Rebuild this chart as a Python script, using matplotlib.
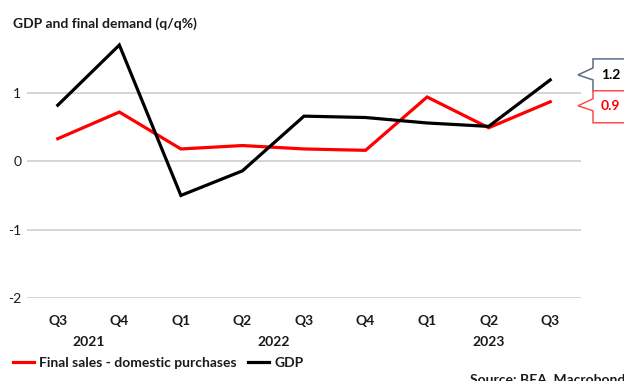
import matplotlib
matplotlib.use("Agg")
import matplotlib.pyplot as plt
from matplotlib.patches import Polygon
import numpy as np

quarters = ["Q3", "Q4", "Q1", "Q2", "Q3", "Q4", "Q1", "Q2", "Q3"]
years = ["2021", "2022", "2023"]
year_groups = [(0, 1), (2, 5), (6, 8)]
final_sales_minus_dom = [0.33, 0.72, 0.18, 0.23, 0.18, 0.16, 0.94, 0.49, 0.87]
gdp = [0.82, 1.70, -0.50, -0.14, 0.66, 0.64, 0.56, 0.51, 1.19]
gdp_label = "1.2"
fs_label = "0.9"

FONT = "Lato"
TXT = "#1a1a1a"
RED = "#ff0000"
FS = 10

W, H = 624, 381
fig = plt.figure(figsize=(W / 100, H / 100), dpi=100)
ax = fig.add_axes([27 / W, 1 - 298 / H, (581 - 27) / W, (298 - 30) / H])

x = np.arange(len(quarters))
ax.plot(x, final_sales_minus_dom, color=RED, lw=2.3, solid_joinstyle="miter",
        label="Final sales - domestic purchases", zorder=3)
ax.plot(x, gdp, color="black", lw=2.3, solid_joinstyle="miter", label="GDP", zorder=4)

ax.set_xlim(-0.5, 8.5)
ax.set_ylim(-2, 1.92)
ax.set_yticks([-2, -1, 0, 1])
ax.set_yticklabels(["-2", "-1", "0", "1"], fontfamily=FONT, fontsize=FS, color=TXT)
ax.yaxis.grid(True, color="#d4d4d4", lw=1.4)
ax.set_axisbelow(True)
ax.tick_params(axis="y", length=0, pad=4)
ax.set_xticks(x)
ax.set_xticklabels(quarters, fontfamily=FONT, fontsize=FS, fontweight="bold", color=TXT)
ax.tick_params(axis="x", length=0, pad=12)
for s in ax.spines.values():
    s.set_visible(False)

# year labels
for yr, (a, b) in zip(years, year_groups):
    ax.text((a + b) / 2, -44 / 268, yr, transform=ax.get_xaxis_transform(), ha="center", va="center",
            fontfamily=FONT, fontsize=FS, fontweight="bold", color=TXT)

# title
fig.text(13 / W, 1 - 24 / H, "GDP and final demand (q/q%)", ha="left", va="center",
         fontfamily=FONT, fontsize=FS, fontweight="bold", color=TXT)

# legend
leg = fig.legend(loc="center left", bbox_to_anchor=(13 / W, 1 - 363 / H), ncol=2, frameon=False,
                 prop={"family": FONT, "size": FS, "weight": "bold"}, handlelength=1.5,
                 handletextpad=0.4, columnspacing=0.8, borderaxespad=0, borderpad=0)
for t in leg.get_texts():
    t.set_color(TXT)

fig.text(470 / W, 1 - 379 / H, "Source: BEA, Macrobond", ha="left", va="center",
         fontfamily=FONT, fontsize=FS, fontweight="bold", color=TXT)

# callout boxes
fig.canvas.draw()
def to_px(xv, yv):
    return ax.transData.transform((xv, yv))

def callout(value, text, color, edge, dy_tip, top_off, bot_off):
    _, ty = to_px(8.5, value)
    ty += dy_tip
    left = 593
    tipx = 578
    top = ty + top_off
    bot = ty - bot_off
    pts = [(left, top), (W + 10, top), (W + 10, bot), (left, bot),
           (left, ty - 5), (tipx, ty), (left, ty + 7)]
    poly = Polygon(pts, closed=True, fill=True, facecolor="white", edgecolor=edge, lw=1.1,
                   transform=None, zorder=10)
    fig.patches.append(poly)
    fig.text(601 / W, ty / H, text, ha="left", va="center", fontfamily=FONT, fontsize=FS,
             fontweight="bold", color=color, zorder=11)

callout(gdp[-1], gdp_label, "black", "#5a6d8c", 5, 16, 17)
callout(final_sales_minus_dom[-1], fs_label, RED, "#ff4d4d", -4, 15, 17)

fig.savefig("out.png", dpi=100)
